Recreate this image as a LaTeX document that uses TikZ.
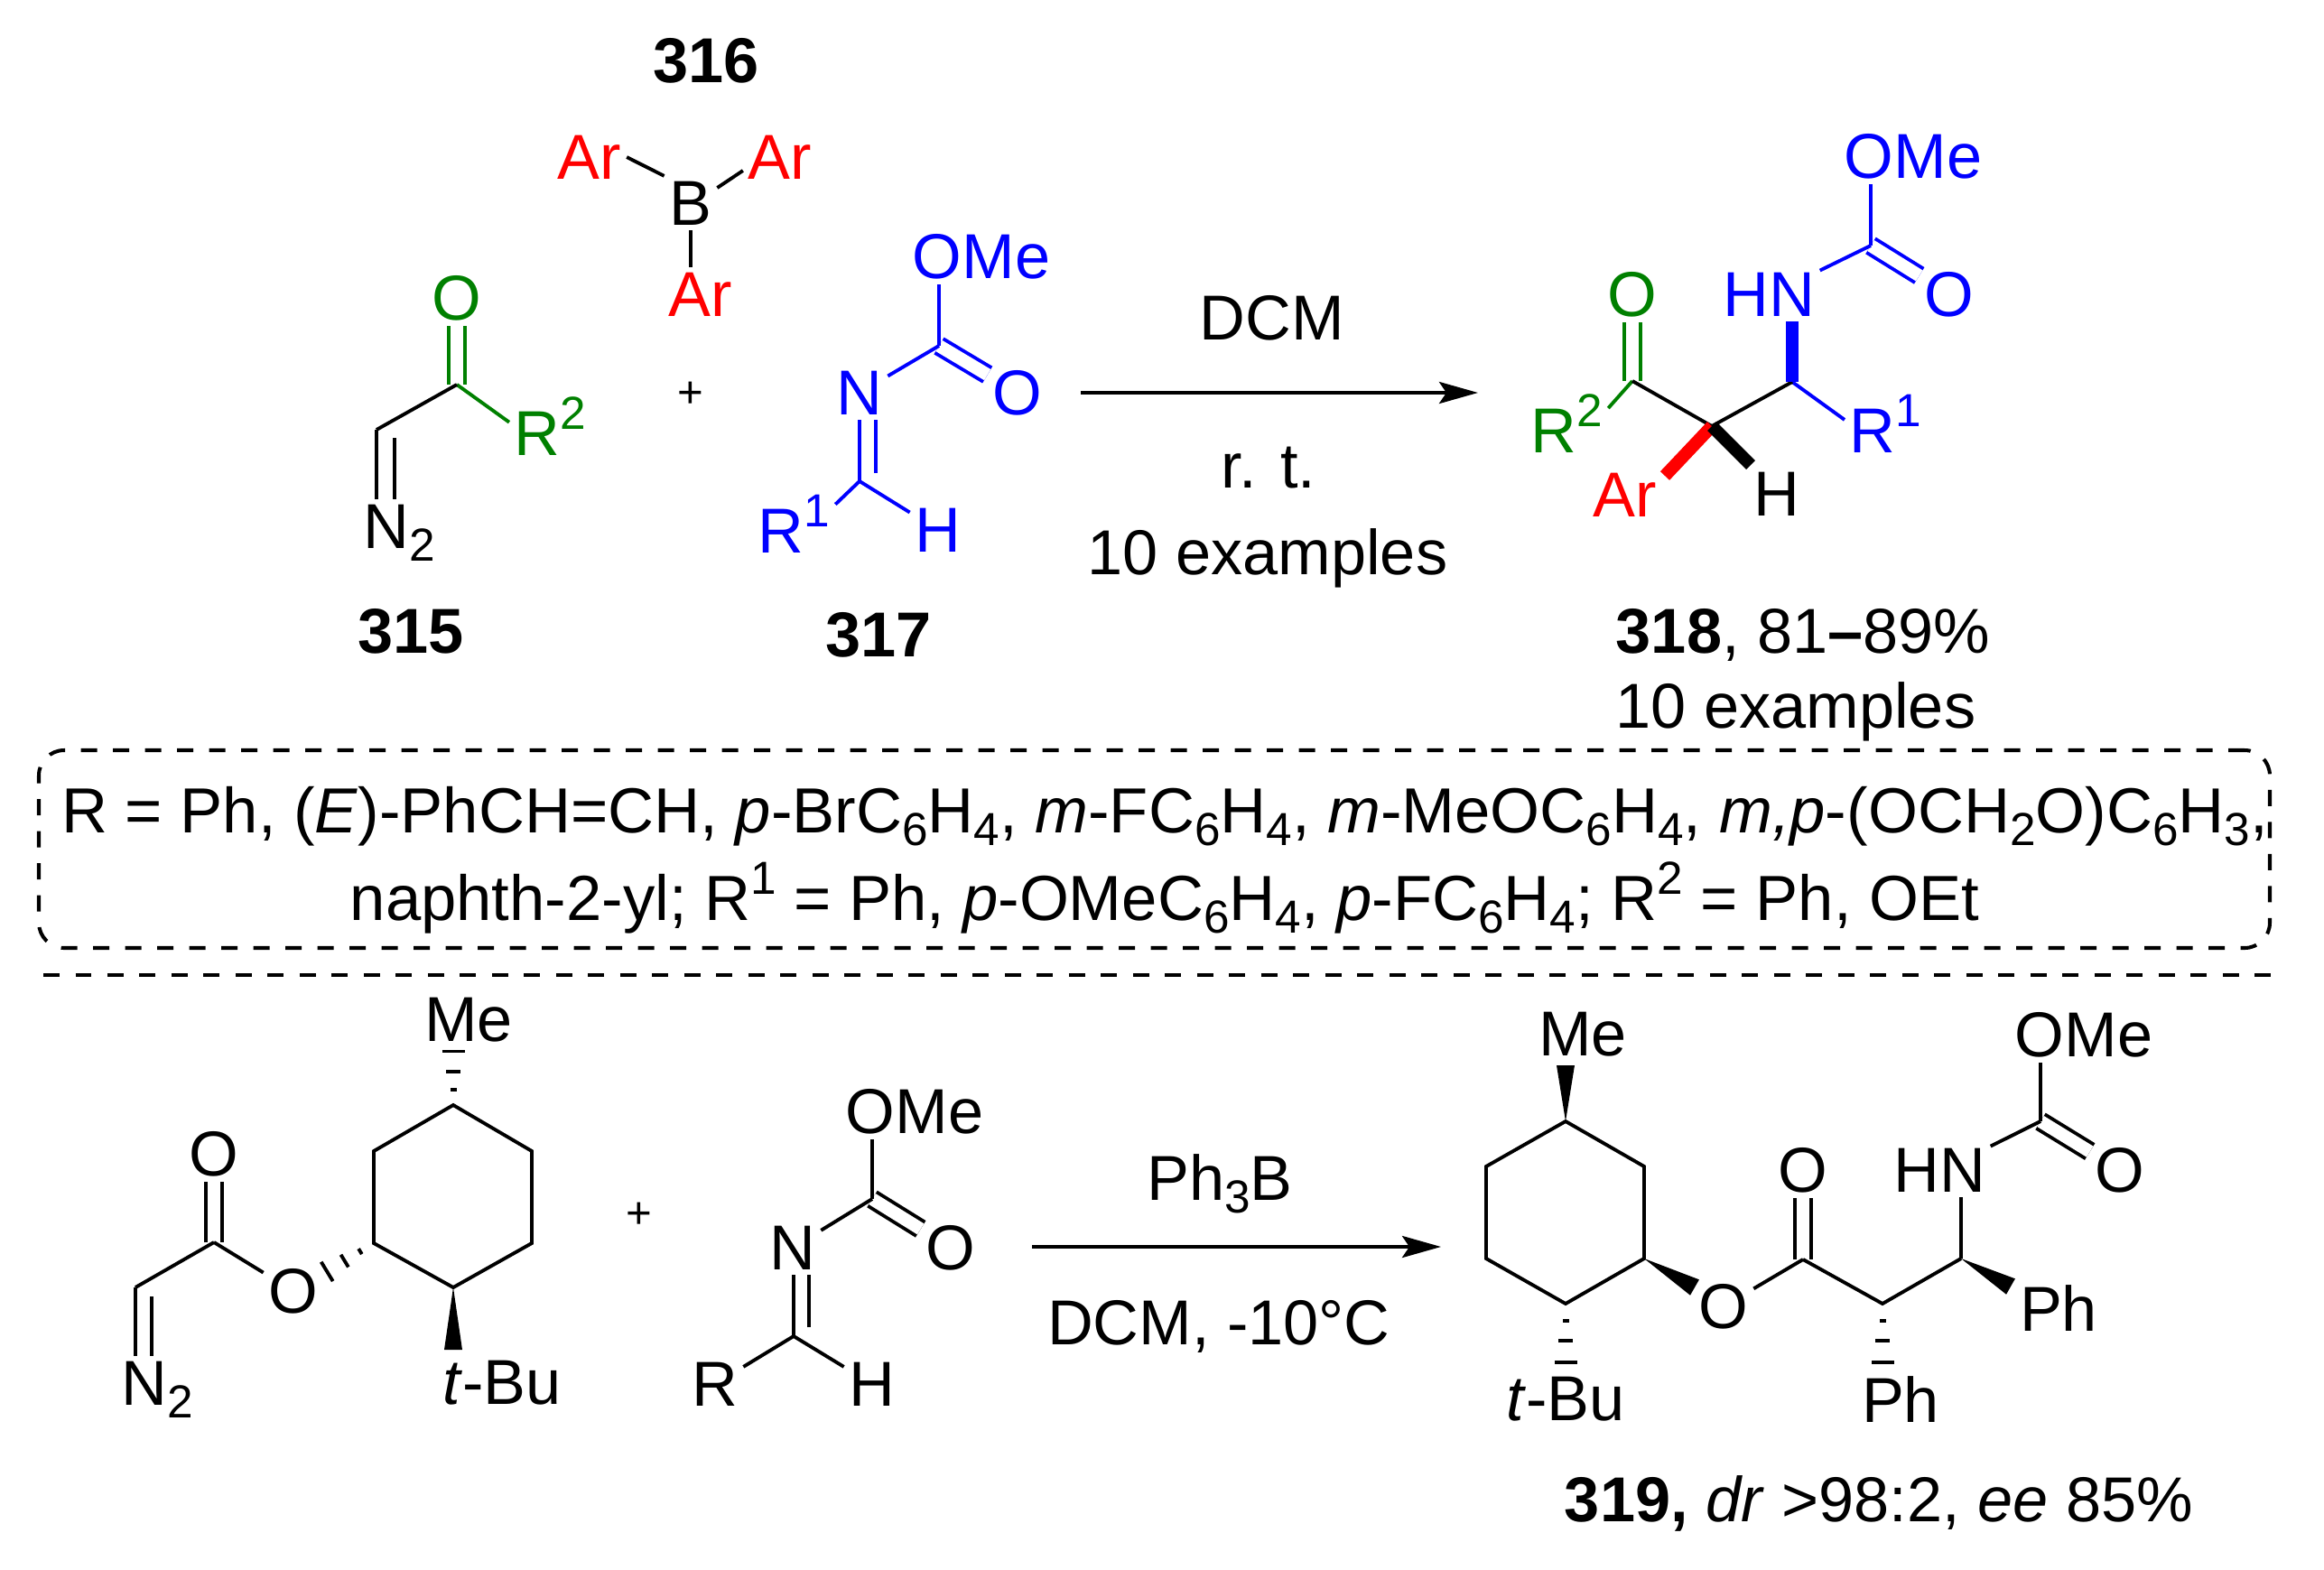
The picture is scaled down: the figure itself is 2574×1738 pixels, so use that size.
\documentclass[tikz,border=0pt]{standalone}
\usepackage{fontspec}
\setmainfont{Liberation Sans}
\usetikzlibrary{calc,arrows.meta}
\definecolor{chemgreen}{RGB}{0,128,0}
\newcommand{\supr}[1]{\raisebox{.41em}{\fontsize{14.6}{15}\selectfont #1}}
\newcommand{\subr}[1]{\raisebox{-.2em}{\fontsize{14.6}{15}\selectfont #1}}
% hashed bond, three bars growing towards the second point
\newcommand{\hashbnd}[2]{\foreach \t/\hw in {.27/.35mm,.58/.8mm,.93/1.25mm}{
      \draw[hsh] ($(#1)!\t!(#2)!\hw!90:(#2)$) -- ($(#1)!\t!(#2)!\hw!-90:(#2)$);}}
% solid wedge from the first point to the second
\newcommand{\wedgebnd}[2]{\fill ($(#2)!1mm!90:(#1)$) -- (#1) -- ($(#2)!1mm!-90:(#1)$) -- cycle;}

\begin{document}
\begin{tikzpicture}[x=.1mm,y=-.1mm,
      %style for atoms and labels
      atm/.style={inner sep=1.5pt, font=\fontsize{20}{24}\selectfont},
      lbl/.style={inner sep=0pt, anchor=base, font=\fontsize{20}{24}\selectfont},
      nmb/.style={lbl, font=\fontsize{20}{24}\selectfont\bfseries},
      plu/.style={inner sep=0pt, font=\fontsize{14}{16}\selectfont},
      %style for bonds
      bnd/.style={line width=1.1pt},
      dbl/.style={line width=1.1pt, double, double distance between line centers=1.8mm},
      bld/.style={line width=1.4mm},
      hsh/.style={line width=1.1pt},
      %style for arrows
      arrw/.style={line width=1.15pt, -{Stealth[length=4.3mm,width=2.4mm,inset=.8mm]}},
      %style for dashed parts
      dsh/.style={line width=1.15pt, dash pattern=on 1.8mm off 1.75mm}]
      \useasboundingbox (0,0) rectangle (2574,1738);

      % diazo compound
      \coordinate(cdz) at (417,476);
      \coordinate(cdzr) at (437,485);
      \coordinate(cko) at (506,426);
      \node[atm,text=chemgreen](oko) at (506,330){O};
      \node[atm,text=chemgreen,anchor=base west](rtwo) at (564,504){R\supr{2}};
      \node[atm,anchor=base west](ntwo) at (397,607){N\subr{2}};
      \draw[dbl,chemgreen] (cko) -- (oko);
      \draw[bnd,chemgreen] (cko) -- (rtwo.175);
      \draw[bnd] (cdz) -- (cko);
      \draw[bnd] (cdz) -- (cdz |- ntwo.north);
      \draw[bnd] (cdzr) -- (cdzr |- ntwo.north);
      \node[nmb](lbla) at (455,723){315};

      % borane
      \node[nmb](lblb) at (782,91){316};
      \node[atm](boron) at (765,225){B};
      \node[atm,text=red](ara) at (653,174){Ar};
      \node[atm,text=red](arb) at (864,174){Ar};
      \node[atm,text=red](arc) at (776,326){Ar};
      \draw[bnd] (ara.east) -- (boron.north west);
      \draw[bnd] (boron.30) -- (arb.200);
      \draw[bnd] (boron.south) -- (boron.south |- arc.north);
      \node[plu](plusa) at (765,437){+};

      % imine
      \begin{scope}[blue]
      \coordinate(cim) at (1040,383);
      \coordinate(cme) at (952,533);
      \coordinate(cmer) at (970,524);
      \node[atm,text=blue](omea) at (1087,284){OMe};
      \node[atm,text=blue](oima) at (1127,435){O};
      \node[atm,text=blue](nima) at (952,435){N};
      \node[atm,text=blue,anchor=base west](rone) at (834,612){R\supr{1}};
      \node[atm,text=blue](hima) at (1039,587){H};
      \draw[dbl] (cim) -- (oima);
      \draw[bnd] (cim) -- (cim |- omea.south);
      \draw[bnd] (cim) -- (nima);
      \draw[bnd] (cme) -- (nima.south);
      \draw[bnd] (cmer) -- (cmer |- nima.south);
      \draw[bnd] (cme) -- (rone.25);
      \draw[bnd] (cme) -- (hima);
      \end{scope}
      \node[nmb](lblc) at (973,727){317};

      % first reaction arrow
      \coordinate(arwa) at (1197,435);
      \coordinate(arwb) at (1637,435);
      \draw[arrw] (arwa) -- (arwb);
      \node[lbl](dcma) at (1409,376){DCM};
      \node[lbl](rtemp) at (1405,540){r. t.};
      \node[lbl](exa) at (1404,636){10 examples};

      % product of the first reaction
      \coordinate(cpa) at (1808,422);
      \coordinate(cpb) at (1896,472);
      \coordinate(cpc) at (1985,423);
      \coordinate(cpd) at (2072,272);
      \coordinate(wara) at (1844,527);
      \coordinate(whyd) at (1939,515);
      \node[atm,text=chemgreen](opa) at (1808,326){O};
      \node[atm,text=chemgreen,anchor=base west](rtwob) at (1690,501){R\supr{2}};
      \node[atm,text=blue,anchor=base west](roneb) at (2043,501){R\supr{1}};
      \node[atm,text=blue](hnp) at (1959,326){HN};
      \node[atm,text=blue](omep) at (2119,173){OMe};
      \node[atm,text=blue](opd) at (2159,326){O};
      \node[atm,text=red](arp) at (1800,548){Ar};
      \node[atm](hp) at (1968,547){H};
      \draw[dbl,chemgreen] (cpa) -- (opa);
      \draw[dbl,blue] (cpd) -- (opd);
      \draw[bnd,blue] (cpd) -- (cpd |- omep.south);
      \draw[bnd,blue] (cpd) -- (hnp.25);
      \draw[bnd,chemgreen] (cpa) -- (rtwob.20);
      \draw[bnd,blue] (cpc) -- (roneb.175);
      \draw[bnd] (cpa) -- (cpb) -- (cpc);
      \draw[bld,blue] (cpc) -- (cpc |- hnp.south);
      \draw[bld,red] (cpb) -- (wara);
      \draw[bld] (cpb) -- (whyd);
      \node[lbl](lbld) at (1997,723){\textbf{318}, 81\textbf{--}89\%};
      \node[lbl](exb) at (1989,806){10 examples};

      % list of substituents
      \node[dsh,draw,rounded corners=2.8mm,minimum width=247.1mm,minimum height=21.9mm,inner sep=0pt](sbox) at (1278.5,940.5){};
      \node[inner sep=0pt,align=center,font=\fontsize{20.1}{27.6}\selectfont](subst) at (1290,953)
            {R = Ph, (\textit{E})-PhCH=CH, \textit{p}-BrC\subr{6}H\subr{4}, \textit{m}-FC\subr{6}H\subr{4}, \textit{m}-MeOC\subr{6}H\subr{4}, \textit{m,p}-(OCH\subr{2}O)C\subr{6}H\subr{3},\\
            naphth-2-yl; R\supr{1} = Ph, \textit{p}-OMeC\subr{6}H\subr{4}, \textit{p}-FC\subr{6}H\subr{4}; R\supr{2} = Ph, OEt};
      \coordinate(sepa) at (48,1080);
      \coordinate(sepb) at (2517,1080);
      \draw[dsh] (sepa) -- (sepb);

      % menthyl diazoacetate
      \coordinate(ra) at (502,1224);
      \coordinate(rb) at (414,1275);
      \coordinate(rc) at (414,1377);
      \coordinate(rd) at (502,1426);
      \coordinate(re) at (589,1377);
      \coordinate(rf) at (589,1275);
      \coordinate(cest) at (237,1376);
      \coordinate(cdb) at (150,1426);
      \coordinate(cdbr) at (168,1436);
      \coordinate(hma) at (502,1160);
      \coordinate(wbu) at (502,1495);
      \node[atm](mea) at (519,1130){Me};
      \node[atm](oeo) at (237,1278){O};
      \node[atm](oes) at (325,1430){O};
      \node[atm,anchor=base west](ntwob) at (129,1556){N\subr{2}};
      \node[atm](bua) at (556,1532){\textit{t}-Bu};
      \draw[bnd] (ra) -- (rb) -- (rc) -- (rd) -- (re) -- (rf) -- cycle;
      \draw[dbl] (cest) -- (oeo);
      \draw[bnd] (cest) -- (oes);
      \draw[bnd] (cest) -- (cdb);
      \draw[bnd] (cdb) -- (cdb |- ntwob.north);
      \draw[bnd] (cdbr) -- (cdbr |- ntwob.north);
      \hashbnd{ra}{hma}
      \hashbnd{rc}{oes.30}
      \wedgebnd{rd}{wbu}
      \node[plu](plusb) at (708,1346){+};

      % second imine
      \coordinate(cic) at (966,1328);
      \coordinate(cid) at (879,1480);
      \coordinate(cidr) at (896,1470);
      \node[atm](omeb) at (1013,1231){OMe};
      \node[atm](oimb) at (1053,1382){O};
      \node[atm](nimb) at (878,1382){N};
      \node[atm](rimb) at (792,1533){R};
      \node[atm](himb) at (966,1533){H};
      \draw[dbl] (cic) -- (oimb);
      \draw[bnd] (cic) -- (cic |- omeb.south);
      \draw[bnd] (cic) -- (nimb);
      \draw[bnd] (cid) -- (cid |- nimb.south);
      \draw[bnd] (cidr) -- (cidr |- nimb.south);
      \draw[bnd] (cid) -- (rimb);
      \draw[bnd] (cid) -- (himb);

      % second reaction arrow
      \coordinate(arwc) at (1143,1381);
      \coordinate(arwd) at (1596,1381);
      \draw[arrw] (arwc) -- (arwd);
      \node[lbl](phb) at (1351,1329){Ph\subr{3}B};
      \node[lbl](dcmb) at (1350,1489){DCM, -10°C};

      % product of the second reaction
      \coordinate(sa) at (1734,1242);
      \coordinate(sb) at (1646,1292);
      \coordinate(sc) at (1646,1394);
      \coordinate(sd) at (1734,1444);
      \coordinate(se) at (1821,1394);
      \coordinate(sf) at (1821,1292);
      \coordinate(cq) at (1997,1395);
      \coordinate(ch) at (2085,1444);
      \coordinate(ci) at (2172,1394);
      \coordinate(cj) at (2260,1242);
      \coordinate(wme) at (1734,1180);
      \coordinate(hbu) at (1734,1514);
      \coordinate(wo) at (1877,1426);
      \coordinate(hph) at (2085,1514);
      \coordinate(wph) at (2227,1425);
      \node[atm](mep) at (1753,1146){Me};
      \node[atm](bup) at (1734,1550){\textit{t}-Bu};
      \node[atm](oesp) at (1909,1447){O};
      \node[atm](ocp) at (1997,1296){O};
      \node[atm](hnq) at (2148,1296){HN};
      \node[atm](ompq) at (2308,1146){OMe};
      \node[atm](ocq) at (2348,1296){O};
      \node[atm](pha) at (2105,1550){Ph};
      \node[atm](phc) at (2280,1449){Ph};
      \draw[bnd] (sa) -- (sb) -- (sc) -- (sd) -- (se) -- (sf) -- cycle;
      \draw[dbl] (cq) -- (ocp);
      \draw[dbl] (cj) -- (ocq);
      \draw[bnd] (oesp) -- (cq);
      \draw[bnd] (cq) -- (ch) -- (ci);
      \draw[bnd] (ci) -- (ci |- hnq.south);
      \draw[bnd] (cj) -- (hnq.25);
      \draw[bnd] (cj) -- (cj |- ompq.south);
      \wedgebnd{sa}{wme}
      \wedgebnd{se}{wo}
      \wedgebnd{ci}{wph}
      \hashbnd{sd}{hbu}
      \hashbnd{ch}{hph}
      \node[lbl](lble) at (2081,1685){\textbf{319,} \textit{dr} >98:2, \textit{ee} 85\%};
\end{tikzpicture}
\end{document}
